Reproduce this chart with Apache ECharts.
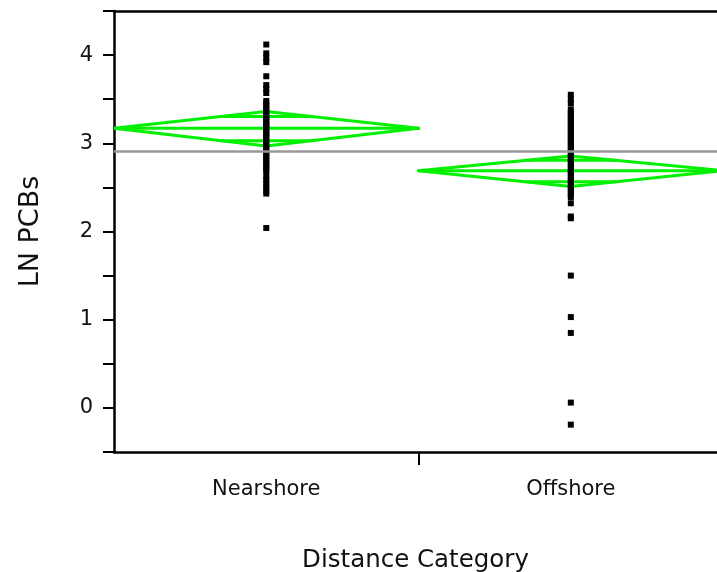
<!DOCTYPE html>
<html>
<head>
<meta charset="utf-8">
<script src="https://cdn.jsdelivr.net/npm/echarts@6/dist/echarts.min.js"></script>
<style>
html,body{margin:0;padding:0;background:#fff;}
#chart{width:717px;height:572px;}
</style>
</head>
<body>
<div id="chart"></div>
<script>
// ---- data ----
const categories = ['Nearshore', 'Offshore'];
const nearshoreValues = [4.12, 4.02, 3.97, 3.92, 3.76, 3.66, 3.62, 3.57,
  3.48, 3.45, 3.42, 3.39, 3.36, 3.33, 3.30, 3.28, 3.25, 3.22, 3.20, 3.18, 3.15, 3.12, 3.10,
  3.07, 3.04, 3.01, 2.98, 2.95, 2.92, 2.89, 2.86, 2.83, 2.80, 2.77, 2.74, 2.71, 2.68,
  2.62, 2.58, 2.54, 2.50, 2.46, 2.43, 2.04];
const offshoreValues = [3.55, 3.50, 3.45,
  3.38, 3.35, 3.32, 3.29, 3.26, 3.23, 3.20, 3.17, 3.14, 3.11, 3.08, 3.05, 3.02, 2.99,
  2.96, 2.93, 2.90, 2.87, 2.84, 2.81, 2.78, 2.75, 2.72, 2.69, 2.66, 2.63, 2.60, 2.57,
  2.54, 2.51, 2.48, 2.45, 2.42, 2.39,
  2.32, 2.17, 2.15, 1.50, 1.03, 0.85, 0.06, -0.19];
const groupMeans = [3.17, 2.69];
const groupUpper = [3.36, 2.855];
const groupLower = [2.97, 2.51];
const grandMean = 2.91;
const yTickLabels = [0, 1, 2, 3, 4];

// ---- build chart ----
const pts = [];
nearshoreValues.forEach(v => pts.push([0, v]));
offshoreValues.forEach(v => pts.push([1, v]));
const diamonds = groupMeans.map((m, i) => [i, m, groupUpper[i], groupLower[i]]);

const FONT = 'DejaVu Sans';
const GREEN = '#00f000';
const TXT = '#111';

const chart = echarts.init(document.getElementById('chart'), null, {renderer: 'canvas'});
chart.setOption({
  animation: false,
  backgroundColor: '#fff',
  grid: {left: 114, right: 0, top: 11, bottom: 120, containLabel: false, outerBoundsMode: 'none'},
  xAxis: [{
    type: 'value', min: -0.5, max: 1.48, position: 'bottom',
    splitLine: {show: false},
    axisLine: {show: true, onZero: false, lineStyle: {color: '#000', width: 2.5}},
    axisTick: {show: true, customValues: [0.5], length: 13, lineStyle: {color: '#000', width: 2}},
    axisLabel: {show: true, customValues: [0, 1], margin: 27,
      formatter: v => categories[Math.round(v)] || '',
      fontFamily: FONT, fontSize: 21, color: TXT},
    name: 'Distance Category', nameLocation: 'middle', nameGap: 96,
    nameTextStyle: {fontFamily: FONT, fontSize: 24.5, color: TXT}
  }, {
    type: 'value', min: -0.5, max: 1.48, position: 'top',
    splitLine: {show: false},
    axisLine: {show: true, onZero: false, lineStyle: {color: '#000', width: 2.5}},
    axisTick: {show: false}, axisLabel: {show: false}
  }],
  yAxis: {
    type: 'value', min: -0.5, max: 4.5, interval: 0.5,
    splitLine: {show: false},
    axisLine: {show: true, onZero: false, lineStyle: {color: '#000', width: 2.5}},
    axisTick: {show: true, length: 11, lineStyle: {color: '#000', width: 2}},
    axisLabel: {show: true, customValues: yTickLabels, margin: 21,
      fontFamily: FONT, fontSize: 21, color: TXT},
    name: 'LN PCBs', nameLocation: 'middle', nameGap: 70,
    nameTextStyle: {fontFamily: FONT, fontSize: 27, color: TXT}
  },
  series: [{
    type: 'custom',
    clip: true,
    z: 2,
    data: diamonds,
    renderItem: function (params, api) {
      const i = api.value(0), m = api.value(1), u = api.value(2), l = api.value(3);
      const L = api.coord([i - 0.5, m]), T = api.coord([i, u]);
      const R = api.coord([i + 0.5, m]), B = api.coord([i, l]);
      const k = 1 / Math.SQRT2;
      const w = 0.5 * (1 - k);
      const yu = m + (u - m) * k, yl = m - (m - l) * k;
      const a1 = api.coord([i - w, yu]), b1 = api.coord([i + w, yu]);
      const a2 = api.coord([i - w, yl]), b2 = api.coord([i + w, yl]);
      const st = {stroke: GREEN, lineWidth: 3, fill: null, lineJoin: 'round', lineCap: 'round'};
      return {
        type: 'group',
        children: [
          {type: 'polygon', shape: {points: [L, T, R, B]}, style: st},
          {type: 'line', shape: {x1: L[0], y1: L[1], x2: R[0], y2: R[1]}, style: st},
          {type: 'line', shape: {x1: a1[0], y1: a1[1], x2: b1[0], y2: b1[1]}, style: st},
          {type: 'line', shape: {x1: a2[0], y1: a2[1], x2: b2[0], y2: b2[1]}, style: st}
        ]
      };
    }
  }, {
    type: 'scatter',
    z: 3,
    symbol: 'rect',
    symbolSize: [6, 6],
    itemStyle: {color: '#000', opacity: 1},
    data: pts,
    markLine: {
      silent: true,
      symbol: ['none', 'none'],
      label: {show: false},
      lineStyle: {color: '#999999', width: 2.5, type: 'solid', opacity: 1},
      data: [{yAxis: grandMean}]
    }
  }]
});
</script>
</body>
</html>
